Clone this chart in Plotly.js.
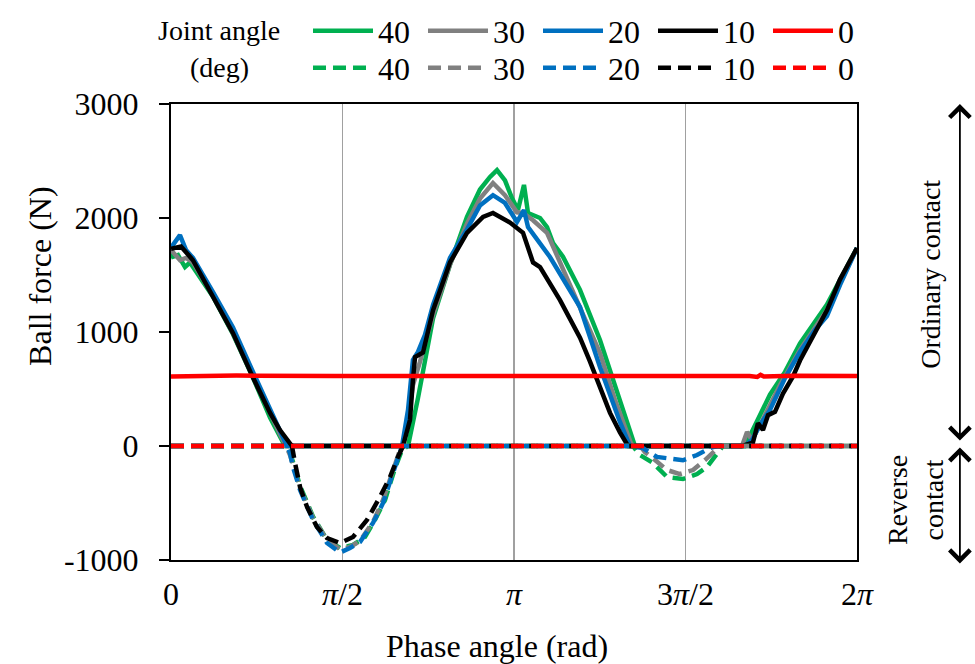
<!DOCTYPE html>
<html>
<head>
<meta charset="utf-8">
<script src="https://cdn.plot.ly/plotly-3.0.1.min.js"></script>
<style>html,body{margin:0;padding:0;background:#fff;}#chart{width:975px;height:664px;}</style>
</head>
<body>
<div id="chart"></div>
<script>
// ---- data (phase in rad, ball force in N) ----
const seriesNames = ['40', '30', '20', '10', '0'];
const seriesColors = ['#00b050', '#808080', '#0070c0', '#000000', '#ff0000'];

// Ordinary contact (solid)
const phaseS40 = [0, 0.018, 0.064, 0.128, 0.174, 0.385, 0.568, 0.751, 0.907, 0.998, 1.044, 2.171, 2.262, 2.400, 2.555, 2.711, 2.830, 2.922, 2.986, 3.059, 3.123, 3.178, 3.233, 3.270, 3.380, 3.444, 3.499, 3.590, 3.746, 3.929, 4.067, 4.158, 4.249, 5.257, 5.321, 5.395, 5.486, 5.624, 5.761, 6.008, 6.283];
const forceS40 = [1700, 1660, 1675, 1570, 1610, 1310, 980, 600, 250, 70, 0, 0, 420, 1120, 1590, 2010, 2250, 2360, 2420, 2330, 2175, 2070, 2290, 2044, 2000, 1920, 1780, 1660, 1370, 930, 535, 270, 0, 0, 120, 270, 450, 650, 900, 1240, 1737];

const phaseS30 = [0, 0.082, 0.137, 0.201, 0.385, 0.568, 0.751, 0.907, 0.998, 1.053, 2.125, 2.171, 2.216, 2.281, 2.400, 2.555, 2.711, 2.830, 2.949, 3.059, 3.169, 3.224, 3.316, 3.444, 3.627, 3.929, 4.067, 4.222, 5.230, 5.276, 5.321, 5.395, 5.578, 5.761, 6.008, 6.283];
const forceS30 = [1720, 1630, 1650, 1610, 1320, 990, 610, 280, 105, 0, 0, 230, 535, 740, 1150, 1590, 1950, 2170, 2307, 2200, 2050, 2044, 1980, 1870, 1480, 816, 404, 0, 0, 123, 53, 184, 535, 842, 1193, 1737];

const phaseS20 = [0, 0.082, 0.137, 0.201, 0.385, 0.568, 0.751, 0.907, 0.998, 1.062, 2.116, 2.171, 2.216, 2.262, 2.326, 2.400, 2.555, 2.711, 2.830, 2.949, 3.059, 3.169, 3.233, 3.270, 3.471, 3.746, 3.929, 4.021, 4.112, 4.204, 5.257, 5.321, 5.395, 5.486, 5.624, 5.761, 5.899, 6.008, 6.127, 6.283];
const forceS20 = [1740, 1850, 1720, 1650, 1350, 1040, 650, 320, 120, 0, 0, 316, 754, 825, 974, 1237, 1650, 1900, 2110, 2200, 2132, 1965, 2070, 1921, 1658, 1219, 693, 447, 211, 0, 0, 53, 184, 316, 596, 825, 1018, 1140, 1412, 1737];

const phaseS10 = [0, 0.092, 0.201, 0.385, 0.568, 0.751, 0.907, 0.998, 1.072, 1.108, 2.125, 2.189, 2.216, 2.235, 2.308, 2.400, 2.555, 2.711, 2.858, 2.949, 3.105, 3.224, 3.316, 3.380, 3.563, 3.746, 3.838, 3.929, 4.021, 4.112, 4.186, 5.230, 5.330, 5.376, 5.422, 5.468, 5.532, 5.605, 5.697, 5.761, 5.880, 6.008, 6.127, 6.283];
const forceS10 = [1730, 1750, 1630, 1310, 990, 600, 290, 140, 40, 0, 0, 230, 580, 780, 820, 1190, 1610, 1870, 2010, 2044, 1960, 1870, 1610, 1570, 1280, 950, 740, 520, 290, 120, 0, 0, 30, 200, 140, 270, 300, 460, 610, 750, 970, 1190, 1460, 1737];

const phaseS0 = [0, 0.6, 1.5, 2.5, 3.5, 4.5, 5.30, 5.37, 5.40, 5.43, 5.70, 6.283];
const forceS0 = [610, 618, 614, 615, 613, 616, 614, 606, 624, 610, 617, 614];

// Reverse contact (dashed)
const phaseD40 = [0, 1.044, 1.090, 1.182, 1.301, 1.429, 1.548, 1.667, 1.777, 1.868, 1.960, 2.052, 2.116, 2.171, 4.231, 4.295, 4.415, 4.543, 4.689, 4.818, 4.909, 5.001, 5.056, 6.283];
const forceD40 = [0, 0, -53, -350, -620, -825, -895, -868, -798, -649, -474, -193, -35, 0, 0, -79, -149, -272, -290, -246, -184, -61, 0, 0];

const phaseD30 = [0, 1.053, 1.090, 1.182, 1.301, 1.429, 1.548, 1.639, 1.731, 1.850, 1.942, 2.033, 2.097, 2.125, 4.222, 4.268, 4.341, 4.433, 4.543, 4.662, 4.781, 4.891, 4.983, 5.028, 6.283];
const forceD30 = [0, 0, -79, -370, -630, -825, -905, -886, -833, -667, -474, -211, -35, 0, 0, 35, -53, -123, -211, -246, -211, -123, -35, 0, 0];

const phaseD20 = [0, 1.062, 1.090, 1.117, 1.182, 1.301, 1.429, 1.548, 1.639, 1.731, 1.850, 1.942, 2.033, 2.097, 2.116, 4.204, 4.323, 4.451, 4.598, 4.689, 4.818, 4.937, 5.001, 6.283];
const forceD20 = [0, 0, -61, -184, -386, -649, -851, -935, -895, -842, -675, -500, -237, -61, 0, 0, -18, -96, -114, -125, -79, -18, 0, 0];

const phaseD10 = [0, 1.108, 1.136, 1.182, 1.246, 1.337, 1.429, 1.548, 1.667, 1.795, 1.914, 2.006, 2.079, 2.125, 6.283];
const forceD10 = [0, 0, -149, -360, -535, -711, -807, -851, -798, -649, -447, -272, -96, 0, 0];

const phaseD0 = [0, 6.283];
const forceD0 = [0, 0];

// axes
const xTickVals = [0, Math.PI / 2, Math.PI, 3 * Math.PI / 2, 2 * Math.PI];
const xTickText = ['0', '<i>π</i>/2', '<i>π</i>', '3<i>π</i>/2', '2<i>π</i>'];
const yTickVals = [-1000, 0, 1000, 2000, 3000];
const yTickText = ['-1000', '0', '1000', '2000', '3000'];

// ---- chart ----
const FONT = '"Liberation Serif", "Times New Roman", Times, serif';
const solidX = [phaseS40, phaseS30, phaseS20, phaseS10, phaseS0];
const solidY = [forceS40, forceS30, forceS20, forceS10, forceS0];
const dashX = [phaseD40, phaseD30, phaseD20, phaseD10, phaseD0];
const dashY = [forceD40, forceD30, forceD20, forceD10, forceD0];

const traces = [];
for (let i = 0; i < 5; i++) {
  traces.push({type: 'scatter', mode: 'lines', x: solidX[i], y: solidY[i], name: seriesNames[i],
    legend: 'legend', line: {color: seriesColors[i], width: 4.5}, hoverinfo: 'skip'});
}
for (let i = 0; i < 5; i++) {
  traces.push({type: 'scatter', mode: 'lines', x: dashX[i], y: dashY[i], name: seriesNames[i],
    legend: 'legend2', line: {color: seriesColors[i], width: 4.5, dash: '13px,7px'}, hoverinfo: 'skip'});
}

const legendBase = {
  orientation: 'h', xref: 'container', yref: 'container', xanchor: 'left', yanchor: 'middle',
  x: 308 / 975, font: {family: FONT, size: 32, color: '#000'}, itemwidth: 60,
  entrywidth: 40, entrywidthmode: 'pixels', bgcolor: 'rgba(0,0,0,0)', borderwidth: 0,
  traceorder: 'normal', itemclick: false, itemdoubleclick: false
};

// paper coords: x = (px - 171) / 686, y = (560 - py) / 456
const layout = {
  width: 975, height: 664,
  margin: {l: 171, r: 118, t: 104, b: 104},
  paper_bgcolor: '#fff', plot_bgcolor: '#fff',
  font: {family: FONT, size: 32, color: '#000'},
  showlegend: true,
  legend: Object.assign({}, legendBase, {y: 1 - 31 / 664}),
  legend2: Object.assign({}, legendBase, {y: 1 - 68 / 664}),
  xaxis: {
    range: [0, 2 * Math.PI], tickmode: 'array', tickvals: xTickVals, ticktext: xTickText,
    showgrid: true, gridcolor: '#a0a0a0', gridwidth: 1.5, zeroline: false,
    showline: true, linecolor: '#000', linewidth: 2, mirror: true,
    ticks: '', ticklabelstandoff: 5, tickfont: {family: FONT, size: 32, color: '#000'}
  },
  yaxis: {
    range: [-1000, 3000], tickmode: 'array', tickvals: yTickVals, ticktext: yTickText,
    showgrid: false, zeroline: false,
    showline: true, linecolor: '#000', linewidth: 2, mirror: true,
    ticks: 'outside', ticklen: 10, tickwidth: 2, tickcolor: '#000',
    ticklabelstandoff: 14, tickfont: {family: FONT, size: 32, color: '#000'}
  },
  annotations: [
    {text: 'Ball force (N)', textangle: -90, xref: 'paper', yref: 'paper',
     x: -0.191, y: 0.623, xanchor: 'center', yanchor: 'middle', showarrow: false,
     font: {family: FONT, size: 32, color: '#000'}},
    {text: 'Phase angle (rad)', xref: 'paper', yref: 'paper',
     x: 0.475, y: -0.189, xanchor: 'center', yanchor: 'middle', showarrow: false,
     font: {family: FONT, size: 32, color: '#000'}},
    {text: 'Joint angle', xref: 'paper', yref: 'paper',
     x: 0.070, y: 1.162, xanchor: 'center', yanchor: 'middle', showarrow: false,
     font: {family: FONT, size: 28, color: '#000'}},
    {text: '(deg)', xref: 'paper', yref: 'paper',
     x: 0.070, y: 1.079, xanchor: 'center', yanchor: 'middle', showarrow: false,
     font: {family: FONT, size: 28, color: '#000'}},
    {text: 'Ordinary contact', textangle: -90, xref: 'paper', yref: 'paper',
     x: 1.106, y: 0.627, xanchor: 'center', yanchor: 'middle', showarrow: false,
     font: {family: FONT, size: 28, color: '#000'}},
    {text: 'Reverse<br>contact', textangle: -90, xref: 'paper', yref: 'paper',
     x: 1.085, y: 0.132, xanchor: 'center', yanchor: 'middle', showarrow: false,
     font: {family: FONT, size: 28, color: '#000'}},
    {text: ' ', xref: 'paper', yref: 'y', x: 1.150, y: 3000, axref: 'pixel', ayref: 'y', ax: 0, ay: 30,
     showarrow: true, arrowside: 'end+start', arrowhead: 4, startarrowhead: 4,
     arrowsize: 2.2, startarrowsize: 2.2, arrowwidth: 1.8, arrowcolor: '#000',
     font: {size: 1}},
    {text: ' ', xref: 'paper', yref: 'y', x: 1.150, y: -1030, axref: 'pixel', ayref: 'y', ax: 0, ay: 5,
     showarrow: true, arrowside: 'end+start', arrowhead: 4, startarrowhead: 4,
     arrowsize: 2.2, startarrowsize: 2.2, arrowwidth: 1.8, arrowcolor: '#000',
     font: {size: 1}}
  ]
};

Plotly.newPlot('chart', traces, layout, {staticPlot: true, displayModeBar: false});
</script>
</body>
</html>
